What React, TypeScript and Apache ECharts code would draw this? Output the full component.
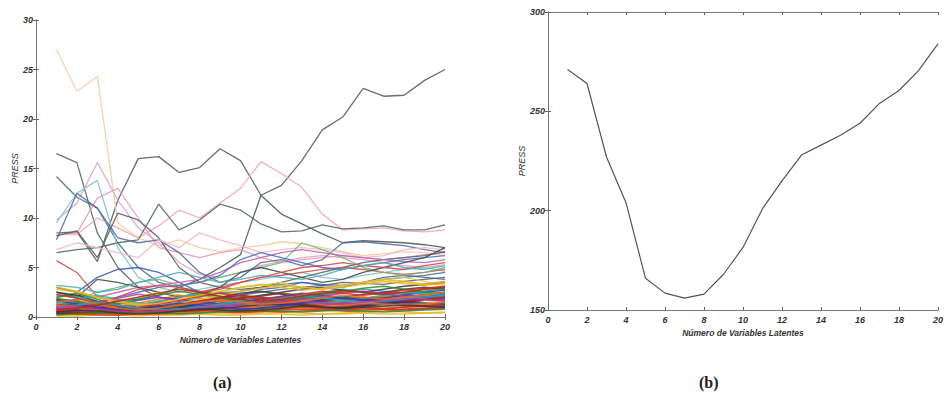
import React, { useEffect, useRef } from "react";
import * as echarts from "echarts";

const latentVars = [1, 2, 3, 4, 5, 6, 7, 8, 9, 10, 11, 12, 13, 14, 15, 16, 17, 18, 19, 20];

// Panel (b): total PRESS per number of latent variables
const pressTotal = [271, 264, 227, 204, 166, 158.5, 156, 158, 168, 181.5, 201, 215, 228, 233, 238, 244, 254, 260.5, 270.5, 284];

// Panel (a): PRESS per response variable – the visible upper lines
const upperLines = [
  [8.5, 8.6, 5.6, 11.8, 16.0, 16.2, 14.6, 15.1, 17.0, 15.8, 12.3, 13.3, 15.8, 18.9, 20.2, 23.1, 22.3, 22.4, 23.9, 25.0],
  [27.0, 22.8, 24.3, 9.5, 8.0, 7.2, 7.8, 7.0, 6.6, 7.0, 7.2, 7.6, 7.4, 7.0, 6.6, 6.2, 6.4, 6.6, 6.5, 6.2],
  [16.5, 15.6, 8.5, 5.0, 3.0, 2.0, 1.6, 1.5, 1.8, 2.2, 2.5, 2.8, 3.0, 3.2, 3.5, 3.4, 3.3, 3.6, 3.8, 4.0],
  [14.2, 12.1, 11.0, 7.5, 5.0, 3.5, 3.0, 2.6, 2.4, 2.6, 3.0, 3.3, 3.5, 3.3, 3.2, 3.5, 3.8, 4.0, 4.2, 4.5],
  [9.8, 11.5, 15.6, 11.8, 9.0, 7.5, 5.5, 4.3, 4.0, 4.5, 5.2, 5.6, 6.0, 6.2, 6.0, 5.8, 5.5, 5.2, 5.0, 5.3],
  [8.5, 8.3, 10.0, 9.0, 8.0, 9.2, 10.8, 10.0, 11.5, 13.0, 15.7, 14.5, 13.1, 10.4, 8.8, 8.9, 9.0, 8.7, 8.6, 8.8],
  [6.5, 6.8, 7.0, 7.5, 7.8, 11.4, 8.8, 9.8, 11.4, 10.8, 9.4, 8.6, 8.7, 9.3, 8.9, 9.0, 9.2, 8.8, 8.8, 9.3],
  [3.0, 2.5, 2.0, 1.6, 1.8, 2.2, 3.0, 3.8, 5.0, 6.3, 12.3, 10.4, 9.4, 8.4, 7.5, 7.7, 7.6, 7.5, 7.3, 7.0],
  [8.3, 8.5, 12.0, 13.0, 10.0, 7.0, 6.5, 6.0, 6.5, 6.8, 6.0, 5.5, 5.8, 6.0, 6.2, 6.0, 5.8, 6.0, 6.3, 6.5],
  [9.5, 12.5, 13.8, 7.0, 4.0, 3.0, 2.5, 2.8, 3.2, 3.5, 3.8, 4.2, 4.5, 4.0, 3.8, 4.2, 4.5, 4.8, 5.0, 4.6],
  [7.8, 12.5, 11.0, 8.0, 7.5, 7.8, 6.5, 4.5, 3.5, 4.0, 5.5, 5.8, 5.2, 5.8, 7.5, 7.6, 7.4, 7.2, 6.8, 6.5],
  [8.2, 8.7, 6.0, 10.5, 9.8, 8.0, 5.0, 3.5, 3.0, 2.8, 3.0, 3.5, 4.0, 4.5, 5.0, 5.5, 5.8, 6.0, 6.2, 6.6],
  [5.7, 4.5, 2.0, 1.5, 1.2, 1.5, 2.0, 2.5, 3.0, 3.5, 4.0, 4.2, 4.5, 4.8, 5.0, 4.8, 4.5, 4.3, 4.5, 4.8],
  [6.8, 7.5, 7.0, 6.5, 6.0, 7.8, 7.0, 8.5, 7.8, 7.2, 6.5, 6.8, 7.0, 6.8, 6.5, 6.0, 6.2, 6.8, 7.0, 6.8],
  [3.0, 2.5, 4.0, 4.8, 5.0, 4.5, 3.5, 2.5, 2.0, 2.2, 2.8, 3.0, 3.5, 3.2, 3.0, 3.5, 4.0, 4.2, 4.0, 3.8],
  [1.5, 1.8, 2.5, 3.0, 3.5, 3.8, 3.2, 3.5, 4.0, 4.5, 5.0, 5.5, 7.5, 6.8, 6.0, 5.0, 4.5, 4.2, 4.5, 5.0],
  [2.0, 2.2, 2.0, 2.5, 3.0, 3.2, 3.5, 3.8, 4.5, 5.5, 6.0, 6.5, 6.8, 6.5, 6.2, 6.0, 5.8, 5.6, 5.5, 5.8],
  [1.0, 1.2, 1.5, 2.0, 2.5, 3.0, 3.2, 3.5, 4.2, 5.8, 6.5, 6.0, 5.5, 5.0, 4.8, 5.2, 5.5, 5.8, 6.0, 6.2],
  [2.5, 2.0, 3.8, 3.5, 3.0, 2.5, 2.0, 2.2, 3.0, 4.5, 5.0, 4.5, 4.0, 3.5, 3.8, 4.5, 5.0, 5.5, 6.0, 7.0],
  [1.2, 1.0, 1.5, 2.0, 2.8, 3.2, 3.0, 2.5, 2.8, 3.5, 4.0, 4.5, 5.0, 5.2, 5.5, 5.2, 5.0, 4.8, 5.2, 5.5],
  [3.2, 3.0, 2.5, 2.8, 3.5, 4.0, 4.5, 4.0, 3.5, 3.8, 4.2, 4.0, 3.8, 4.2, 4.8, 5.2, 5.5, 5.0, 4.8, 5.2],
  [1.8, 1.5, 1.2, 1.5, 2.0, 2.5, 2.2, 2.0, 2.5, 3.0, 3.2, 3.5, 3.0, 2.8, 3.2, 3.5, 3.8, 4.0, 3.6, 3.2],
];
const upperColors = [
  "#56605f", "#f7cba2", "#5c6464", "#4a7488", "#dca4cc", "#f2a8b8", "#566868", "#505a5a",
  "#ea9cb2", "#86c4cc", "#5a6ea4", "#606068", "#d45050", "#f2b8c6", "#4460b4", "#7ab87a",
  "#c860a8", "#5070c4", "#484f50", "#d44a4a", "#50acb4", "#dcc650",
];

// Panel (a): the dense band of low-PRESS variables
const lowLines = [
  [0.8, 0.6, 0.5, 0.4, 0.5, 0.7, 0.9, 1.1, 1.3, 1.2, 1.0, 1.1, 1.3, 1.5, 1.4, 1.2, 1.3, 1.5, 1.7, 1.8],
  [1.5, 1.2, 0.8, 0.6, 0.5, 0.6, 0.8, 1.0, 1.2, 1.5, 1.8, 2.0, 1.8, 1.6, 1.5, 1.7, 2.0, 2.2, 2.1, 2.3],
  [0.4, 0.3, 0.3, 0.2, 0.3, 0.4, 0.5, 0.6, 0.5, 0.4, 0.5, 0.7, 0.8, 0.7, 0.6, 0.5, 0.6, 0.8, 0.9, 1.0],
  [2.2, 2.0, 1.5, 1.0, 0.8, 1.0, 1.5, 2.0, 2.5, 2.2, 1.8, 1.5, 1.8, 2.2, 2.5, 2.8, 2.6, 2.4, 2.8, 3.0],
  [1.0, 0.9, 1.2, 1.5, 1.3, 1.0, 0.8, 0.7, 0.9, 1.2, 1.4, 1.2, 1.0, 0.9, 1.1, 1.3, 1.5, 1.4, 1.2, 1.1],
  [0.2, 0.2, 0.3, 0.3, 0.2, 0.2, 0.3, 0.4, 0.3, 0.3, 0.4, 0.5, 0.4, 0.3, 0.4, 0.5, 0.6, 0.5, 0.4, 0.5],
  [1.8, 1.6, 1.0, 0.7, 0.6, 0.8, 1.2, 1.6, 2.0, 2.4, 2.6, 2.3, 2.0, 1.8, 2.0, 2.3, 2.5, 2.8, 3.0, 2.8],
  [0.6, 0.8, 1.0, 0.8, 0.6, 0.5, 0.6, 0.8, 1.0, 0.9, 0.8, 0.9, 1.1, 1.3, 1.2, 1.0, 0.9, 1.0, 1.2, 1.4],
  [1.3, 1.0, 0.7, 0.5, 0.4, 0.5, 0.7, 1.0, 1.4, 1.8, 2.1, 2.4, 2.2, 2.0, 1.8, 1.6, 1.8, 2.0, 2.3, 2.5],
  [0.5, 0.4, 0.6, 0.9, 1.2, 1.5, 1.3, 1.0, 0.8, 0.7, 0.9, 1.2, 1.5, 1.8, 2.0, 1.8, 1.6, 1.5, 1.7, 1.9],
  [2.0, 2.4, 1.8, 1.2, 0.9, 0.7, 0.6, 0.7, 0.9, 1.1, 1.3, 1.6, 1.9, 2.2, 2.0, 1.8, 2.0, 2.3, 2.6, 2.9],
  [0.3, 0.5, 0.4, 0.3, 0.4, 0.6, 0.8, 0.7, 0.6, 0.5, 0.6, 0.8, 1.0, 0.9, 0.8, 0.7, 0.8, 1.0, 1.1, 1.2],
  [1.6, 1.4, 1.1, 1.0, 1.2, 1.6, 2.0, 2.4, 2.0, 1.7, 1.5, 1.7, 2.1, 2.5, 2.8, 2.5, 2.2, 2.0, 2.2, 2.4],
  [0.9, 0.7, 0.5, 0.6, 0.8, 1.0, 1.2, 1.5, 1.8, 2.0, 1.8, 1.5, 1.3, 1.2, 1.4, 1.7, 2.0, 2.2, 2.0, 1.8],
  [0.1, 0.1, 0.2, 0.2, 0.1, 0.2, 0.2, 0.3, 0.2, 0.2, 0.3, 0.3, 0.2, 0.3, 0.3, 0.4, 0.3, 0.3, 0.4, 0.4],
  [2.5, 2.2, 1.6, 1.0, 0.7, 0.8, 1.0, 1.3, 1.6, 1.9, 2.2, 2.5, 2.8, 3.0, 2.7, 2.5, 2.8, 3.1, 3.3, 3.5],
  [0.7, 0.6, 0.8, 1.1, 1.4, 1.8, 2.2, 1.9, 1.6, 1.4, 1.2, 1.0, 1.1, 1.3, 1.6, 1.9, 2.1, 1.9, 1.7, 1.6],
  [1.1, 1.3, 1.0, 0.8, 0.6, 0.5, 0.5, 0.6, 0.8, 1.0, 1.2, 1.4, 1.3, 1.1, 1.0, 1.2, 1.4, 1.6, 1.8, 2.0],
  [0.4, 0.6, 0.9, 1.3, 1.7, 2.0, 1.8, 1.5, 1.3, 1.5, 1.8, 2.1, 2.4, 2.2, 1.9, 1.7, 1.9, 2.2, 2.5, 2.7],
  [1.9, 1.5, 1.2, 1.4, 1.8, 2.2, 2.6, 2.3, 1.9, 1.6, 1.4, 1.6, 1.9, 2.3, 2.6, 2.9, 3.1, 2.8, 2.5, 2.3],
  [0.5, 0.3, 0.2, 0.2, 0.3, 0.3, 0.4, 0.5, 0.6, 0.7, 0.6, 0.5, 0.6, 0.7, 0.8, 0.9, 0.8, 0.7, 0.8, 0.9],
  [1.4, 1.8, 2.2, 1.8, 1.4, 1.1, 0.9, 1.0, 1.3, 1.7, 2.0, 1.8, 1.5, 1.4, 1.6, 1.9, 2.2, 2.5, 2.4, 2.2],
  [0.8, 1.0, 1.4, 1.9, 2.3, 2.0, 1.6, 1.3, 1.1, 1.0, 1.2, 1.5, 1.8, 2.1, 2.4, 2.6, 2.4, 2.1, 1.9, 2.1],
  [2.8, 2.5, 2.0, 1.6, 1.3, 1.2, 1.4, 1.8, 2.2, 2.6, 2.9, 3.2, 3.0, 2.8, 3.0, 3.3, 3.6, 3.4, 3.2, 3.4],
  [0.3, 0.4, 0.5, 0.7, 0.9, 1.1, 1.0, 0.9, 0.8, 1.0, 1.2, 1.3, 1.2, 1.0, 0.9, 1.1, 1.3, 1.5, 1.4, 1.3],
  [1.2, 0.9, 0.6, 0.4, 0.3, 0.3, 0.4, 0.5, 0.7, 0.9, 1.1, 1.0, 0.9, 1.0, 1.2, 1.4, 1.3, 1.2, 1.3, 1.5],
  [0.6, 0.5, 0.4, 0.5, 0.7, 0.9, 1.2, 1.6, 1.9, 2.2, 2.0, 1.7, 1.5, 1.6, 1.8, 2.0, 1.8, 1.6, 1.8, 2.0],
  [1.7, 1.3, 0.9, 0.7, 0.8, 1.1, 1.4, 1.2, 1.0, 0.8, 0.9, 1.1, 1.4, 1.7, 1.9, 1.7, 1.5, 1.7, 2.0, 2.2],
  [0.2, 0.3, 0.4, 0.4, 0.5, 0.4, 0.3, 0.4, 0.5, 0.6, 0.7, 0.6, 0.5, 0.6, 0.7, 0.6, 0.5, 0.6, 0.7, 0.8],
  [2.3, 1.9, 1.4, 1.1, 1.0, 1.3, 1.7, 2.1, 2.4, 2.1, 1.8, 2.0, 2.3, 2.6, 2.4, 2.2, 2.4, 2.7, 2.9, 3.1],
  [1.0, 1.2, 1.5, 1.2, 0.9, 0.7, 0.8, 1.0, 1.2, 1.4, 1.6, 1.9, 2.1, 1.9, 1.7, 1.5, 1.6, 1.8, 2.0, 2.2],
  [0.9, 1.1, 0.8, 0.6, 0.5, 0.6, 0.7, 0.9, 1.1, 1.3, 1.5, 1.7, 1.6, 1.4, 1.3, 1.5, 1.7, 1.9, 1.8, 1.6],
  [3.0, 2.6, 2.0, 1.5, 1.2, 1.4, 1.8, 2.2, 2.6, 3.0, 3.3, 3.0, 2.7, 2.9, 3.2, 3.5, 3.8, 3.6, 3.3, 3.6],
  [0.5, 0.7, 0.6, 0.4, 0.3, 0.4, 0.6, 0.8, 0.7, 0.6, 0.7, 0.9, 1.1, 1.0, 0.9, 1.0, 1.1, 1.2, 1.1, 1.0],
  [1.5, 1.7, 1.3, 0.9, 0.7, 0.9, 1.2, 1.5, 1.7, 1.5, 1.3, 1.4, 1.6, 1.9, 2.2, 2.0, 1.8, 2.0, 2.2, 2.5],
  [0.7, 0.9, 1.2, 1.6, 2.0, 2.4, 2.8, 2.5, 2.1, 1.8, 1.6, 1.8, 2.1, 2.4, 2.7, 2.5, 2.3, 2.5, 2.8, 3.0],
];
const lowPalette = ["#2a3fb8", "#2e8a2e", "#d42a1a", "#2aa8b0", "#b83aa0", "#e8b820", "#303838", "#e8701e", "#b82414"];

const AXIS_NAME = "Número de Variables Latentes";
const Y_NAME = "PRESS";
const CAPTIONS = ["(a)", "(b)"];

const labelFont = {
  fontFamily: "Liberation Sans, Arial, sans-serif",
  fontStyle: "italic" as const,
  fontWeight: "bold" as const,
  fontSize: 9,
  color: "#333",
};

function boxAxes(gridIndex: number, xMax: number, xInt: number, yMin: number, yMax: number, yInt: number, xGap: number, yGap: number) {
  const line = { show: true, lineStyle: { color: "#7a7a7a", width: 1 } };
  const tick = { show: true, inside: true, length: 3, lineStyle: { color: "#666" } };
  const xAxes = [
    {
      type: "value", gridIndex, min: 0, max: xMax, interval: xInt, position: "bottom",
      axisLine: line, axisTick: tick, splitLine: { show: false },
      axisLabel: { ...labelFont, margin: 5 },
      name: AXIS_NAME, nameLocation: "middle", nameGap: xGap,
      nameTextStyle: { ...labelFont, fontSize: 8.5 },
    },
    {
      type: "value", gridIndex, min: 0, max: xMax, interval: xInt, position: "top",
      axisLine: line, axisTick: tick, splitLine: { show: false }, axisLabel: { show: false },
    },
  ];
  const yAxes = [
    {
      type: "value", gridIndex, min: yMin, max: yMax, interval: yInt, position: "left",
      axisLine: line, axisTick: tick, splitLine: { show: false },
      axisLabel: { ...labelFont, margin: 3 },
      name: Y_NAME, nameLocation: "middle", nameGap: yGap, nameRotate: 90,
      nameTextStyle: { ...labelFont, fontWeight: "normal" as const, fontSize: 9 },
    },
    {
      type: "value", gridIndex, min: yMin, max: yMax, interval: yInt, position: "right",
      axisLine: line, axisTick: tick, splitLine: { show: false }, axisLabel: { show: false },
    },
  ];
  return { xAxes, yAxes };
}

export default function App() {
  const ref = useRef<HTMLDivElement>(null);
  useEffect(() => {
    document.body.style.margin = "0";
    if (!ref.current) return;
    const chart = echarts.init(ref.current, undefined, { renderer: "svg" });
    const a = boxAxes(0, 20, 2, 0, 30, 5, 16, 15);
    const b = boxAxes(1, 20, 2, 150, 300, 50, 17, 20);

    const series: any[] = [];
    upperLines.forEach((vals, i) => {
      series.push({
        type: "line", xAxisIndex: 0, yAxisIndex: 0, symbol: "none", silent: true,
        data: latentVars.map((x, k) => [x, vals[k]]),
        lineStyle: { color: upperColors[i], width: 1.3, opacity: 0.9 },
      });
    });
    lowLines.forEach((vals, i) => {
      series.push({
        type: "line", xAxisIndex: 0, yAxisIndex: 0, symbol: "none", silent: true,
        data: latentVars.map((x, k) => [x, vals[k]]),
        lineStyle: { color: lowPalette[i % lowPalette.length], width: 1.6, opacity: 0.85 },
      });
    });
    series.push({
      type: "line", xAxisIndex: 2, yAxisIndex: 2, symbol: "none", silent: true,
      data: latentVars.map((x, k) => [x, pressTotal[k]]),
      lineStyle: { color: "#555", width: 1.2 },
    });

    chart.setOption({
      animation: false,
      backgroundColor: "#fff",
      grid: [
        { left: 36, top: 20, width: 409, height: 297 },
        { left: 548, top: 12, width: 397, height: 298 },
      ],
      xAxis: [...a.xAxes, ...b.xAxes],
      yAxis: [...a.yAxes, ...b.yAxes],
      series,
      graphic: [
        { type: "text", left: 213, top: 374, style: { text: CAPTIONS[0], font: "bold 16px 'Liberation Serif', serif", fill: "#222" } },
        { type: "text", left: 699, top: 374, style: { text: CAPTIONS[1], font: "bold 16px 'Liberation Serif', serif", fill: "#222" } },
      ],
    });
    return () => chart.dispose();
  }, []);
  return <div ref={ref} style={{ width: 946, height: 399 }} />;
}
